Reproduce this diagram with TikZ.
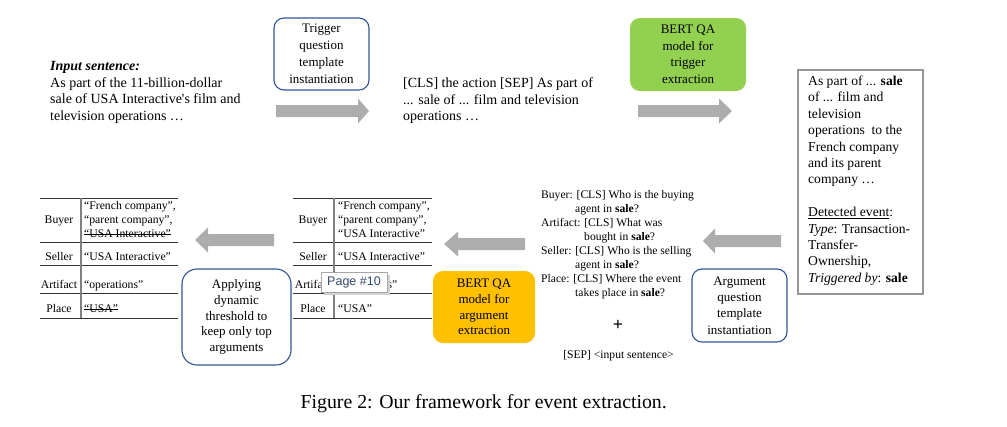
\documentclass[tikz,border=0pt]{standalone}
\usepackage{fontspec}
\setmainfont{Liberation Serif}
\newfontfamily\popfont{Liberation Sans}
\definecolor{boxblue}{RGB}{47,85,151}
\definecolor{qagreen}{RGB}{146,208,80}
\definecolor{qaorange}{RGB}{255,192,0}
\definecolor{arrowgray}{RGB}{173,173,173}
\definecolor{framegray}{RGB}{150,150,150}
\definecolor{popblue}{RGB}{52,73,110}
\newcommand\grayarrow[4]{\fill[arrowgray] (#1,#4-6) -- (#2,#4-6) -- (#2,#4-12.5) -- (#3,#4) -- (#2,#4+12.5) -- (#2,#4+6) -- (#1,#4+6) -- cycle;}
\newcommand\mystrike[1]{\setbox0\hbox{#1}\rlap{\rule[0.28em]{\wd0}{0.7pt}}\box0}
\begin{document}
\begin{tikzpicture}[x=1pt,y=-1pt,
  bluebox/.style={draw=boxblue, line width=1.1pt, rounded corners=10pt, align=center, inner sep=0pt, font=\fontsize{13}{16.2}\selectfont},
  fillbox/.style={rounded corners=10pt, align=center, inner sep=0pt, font=\fontsize{13}{15.8}\selectfont},
  bodytext/.style={anchor=north west, inner sep=0pt, align=left, font=\fontsize{14}{16.7}\selectfont},
  lbl/.style={anchor=base, inner sep=0pt, font=\fontsize{11.7}{14}\selectfont},
  val/.style={anchor=base west, inner sep=0pt, font=\fontsize{11.7}{14}\selectfont},
  hline/.style={line width=0.6pt, black!80},
  vline/.style={line width=1.3pt, black!50}]
\useasboundingbox (0,0) rectangle (1007,426);

% ---- top row ----
\node[bodytext] (inp) at (50,61) {\textbf{\textit{Input sentence:}}\\As part of the 11-billion-dollar\\sale of USA Interactive\textquotesingle s film and\\television operations …};
\node[bluebox, minimum width=95pt, minimum height=72pt, font=\fontsize{13}{17}\selectfont] (trig) at (321.5,54) {Trigger\\question\\template\\instantiation};
\grayarrow{276}{358}{369}{111}
\node[bodytext] (txt2) at (403,77.5) {[CLS] the action [SEP] As part of\\... sale of ... film and television\\operations …};
\node[fillbox, fill=qagreen, minimum width=116pt, minimum height=73pt, font=\fontsize{13}{16.5}\selectfont] (trex) at (688,54.5) {BERT QA\\model for\\trigger\\extraction};
\grayarrow{638}{719}{732}{111}

% ---- right box ----
\node[draw=framegray, line width=1.1pt, minimum width=125pt, minimum height=224pt, inner sep=0pt] (evbox) at (860.5,182) {};
\node[anchor=north west, inner sep=0pt, align=left, font=\fontsize{13.6}{16.4}\selectfont] (evtxt) at (808,75.7) {As part of ... \textbf{sale}\\of ... film and\\television\\operations~ to the\\French company\\and its parent\\company …\\\mbox{}\\\underline{Detected event}:\\\textit{Type}: Transaction-\\Transfer-\\Ownership,\\\textit{Triggered by}: \textbf{sale}};

% ---- bottom row ----
\grayarrow{781}{715}{703}{241}
\node[bluebox, minimum width=95pt, minimum height=73pt] (argq) at (739.5,305.5) {Argument\\question\\template\\instantiation};
\node[anchor=north west, inner sep=0pt, align=left, font=\fontsize{11.6}{14}\selectfont] (qs) at (541,190.5) {Buyer: [CLS] Who is the buying\\\hspace*{34pt}agent in \textbf{sale}?\\Artifact: [CLS] What was\\\hspace*{43pt}bought in \textbf{sale}?\\Seller: [CLS] Who is the selling\\\hspace*{34pt}agent in \textbf{sale}?\\Place: [CLS] Where the event\\\hspace*{34pt}takes place in \textbf{sale}?};
\node[inner sep=0pt, font=\bfseries\fontsize{18}{18}\selectfont] (plus) at (618,325) {+};
\node[anchor=base, inner sep=0pt, font=\fontsize{11.6}{14}\selectfont] (sep) at (618.5,358) {[SEP] <input sentence>};
\grayarrow{525}{458}{444}{244}
\node[fillbox, fill=qaorange, minimum width=102pt, minimum height=72pt] (arex) at (484,307) {BERT QA\\model for\\argument\\extraction};

% middle table
\draw[hline] (293,198) -- (432,198) (293,242) -- (432,242) (293,265) -- (432,265) (293,293) -- (432,293) (293,318) -- (432,318);
\draw[vline] (334,198) -- (334,318);
\node[lbl] (mb) at (313,223.5) {Buyer};
\node[lbl] (ms) at (313,260) {Seller};
\node[lbl] (ma) at (313,288) {Artifact};
\node[lbl] (mp) at (313,312.5) {Place};
\node[val] (mb1) at (338,209.5) {“French company”,};
\node[val] (mb2) at (338,223.5) {“parent company”,};
\node[val] (mb3) at (338,237.5) {“USA Interactive”};
\node[val] (ms1) at (338,260) {“USA Interactive”};
\node[val] (ma1) at (338,288) {“operations”};
\node[val] (mp1) at (338,312.5) {“USA”};
% popup
\fill[black!18] (323.5,274.5) rectangle (390,295);
\node[draw=black!35, line width=0.6pt, fill=white, inner sep=0pt, minimum width=66pt, minimum height=20pt, text=popblue, font=\popfont\fontsize{12.5}{14}\selectfont] (page) at (354,282) {Page \#10};

\grayarrow{274}{208}{195}{240}
\node[bluebox, rounded corners=15pt, minimum width=109pt, minimum height=96pt, font=\fontsize{13}{15.6}\selectfont] (thr) at (236.5,317) {Applying\\dynamic\\threshold to\\keep only top\\arguments};

% left table
\draw[hline] (40,198) -- (178,198) (40,242) -- (178,242) (40,265) -- (178,265) (40,293) -- (178,293) (40,318) -- (178,318);
\draw[vline] (81,198) -- (81,318);
\node[lbl] (lb) at (59,223.5) {Buyer};
\node[lbl] (ls) at (59,260) {Seller};
\node[lbl] (la) at (59,288) {Artifact};
\node[lbl] (lp) at (59,312.5) {Place};
\node[val] (lb1) at (84,209.5) {“French company”,};
\node[val] (lb2) at (84,223.5) {“parent company”,};
\node[val] (lb3) at (84,237.5) {\mystrike{“USA Interactive”}};
\node[val] (ls1) at (84,260) {“USA Interactive”};
\node[val] (la1) at (84,288) {“operations”};
\node[val] (lp1) at (84,312.5) {\mystrike{“USA”}};

% caption
\node[anchor=base, inner sep=0pt, font=\fontsize{19.8}{22}\selectfont] (cap) at (483.7,408.5) {Figure 2: Our framework for event extraction.};
\end{tikzpicture}
\end{document}
